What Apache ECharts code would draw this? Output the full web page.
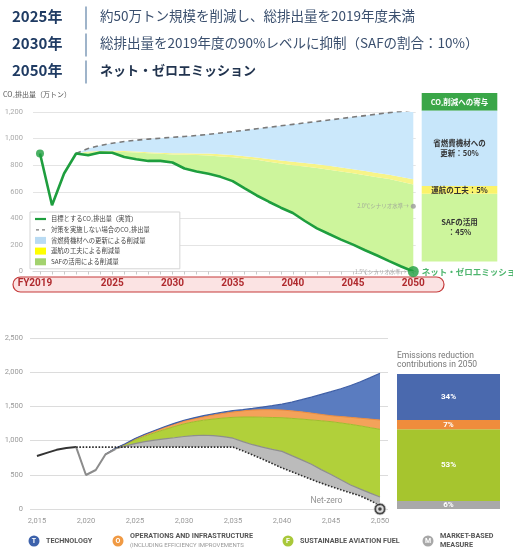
<!DOCTYPE html>
<html><head><meta charset="utf-8">
<script src="https://cdn.jsdelivr.net/npm/echarts@6/dist/echarts.min.js"></script>
<style>html,body{margin:0;padding:0;background:#fff}#c{width:513px;height:551px}</style>
</head><body><div id="c"></div>
<script>
// ---------- header ----------
const headerYears = ['2025年', '2030年', '2050年'];
const headerTexts = ['約50万トン規模を削減し、総排出量を2019年度未満',
  '総排出量を2019年度の90%レベルに抑制（SAFの割合：10%）',
  'ネット・ゼロエミッション'];

// ---------- top chart (Japan) ----------
const topYears = [2019,2020,2021,2022,2023,2024,2025,2026,2027,2028,2029,2030,2031,2032,2033,2034,2035,2036,2037,2038,2039,2040,2041,2042,2043,2044,2045,2046,2047,2048,2049,2050];
const topNet = [888,498,737,888,875,895,893,862,845,832,832,820,775,752,735,712,680,625,572,525,480,440,380,325,282,240,202,160,120,78,38,0];
const topAreaYears = [2022,2023,2024,2025,2026,2027,2028,2029,2030,2031,2032,2033,2034,2035,2036,2037,2038,2039,2040,2041,2042,2043,2044,2045,2046,2047,2048,2049,2050];
const topBau = [888,925,948,965,978,988,996,1003,1010,1016,1023,1032,1042,1052,1063,1074,1085,1096,1107,1118,1129,1140,1151,1162,1173,1184,1195,1205,1215];
const topOpsTop = [888,903,906,908,906,902,898,894,890,889,888,887,882,877,868,858,846,835,825,816,806,795,783,770,756,742,727,711,694];
const topSafTop = [888,895,900,902,900,895,890,885,880,878,876,872,866,859,850,840,826,812,800,790,778,765,752,740,725,710,695,675,655];
const topTickLabels = [2019,2025,2030,2035,2040,2045,2050];
const topPanelPct = [45, 5, 50];
const topPanelLabels = ['SAFの活用\n：45%', '運航の工夫：5%', '省燃費機材への\n更新：50%'];
const scenario20 = [2050, 490];
const scenario15 = [2050, 0];

// ---------- bottom chart (global) ----------
const botYears = [2015,2016,2017,2018,2019,2020,2021,2022,2023,2024,2025,2026,2027,2028,2029,2030,2031,2032,2033,2034,2035,2036,2037,2038,2039,2040,2041,2042,2043,2044,2045,2046,2047,2048,2049,2050];
const histYears = [2015,2016,2017,2018,2019];
const histValues = [775,820,865,893,905];
const recYears = [2019,2020,2021,2022,2023];
const recValues = [905,497,570,800,877];
const netYears = [2019,2020,2021,2022,2023,2024,2025,2026,2027,2028,2029,2030,2031,2032,2033,2034,2035,2036,2037,2038,2039,2040,2041,2042,2043,2044,2045,2046,2047,2048,2049,2050];
const netPath = [905,905,905,905,905,905,905,905,905,905,905,905,905,905,905,905,905,850,790,730,665,600,545,488,432,378,330,282,236,190,125,50];
const botAreaYears = [2022,2023,2024,2025,2026,2027,2028,2029,2030,2031,2032,2033,2034,2035,2036,2037,2038,2039,2040,2041,2042,2043,2044,2045,2046,2047,2048,2049,2050];
const botMbmTop = [800,880,920,955,985,1008,1025,1042,1060,1073,1078,1072,1058,1035,985,940,905,872,843,780,718,655,576,505,427,350,290,232,175];
const botSafTop = [800,885,945,1010,1065,1115,1160,1205,1245,1275,1298,1315,1330,1340,1345,1345,1342,1338,1335,1325,1315,1302,1290,1277,1258,1238,1215,1190,1165];
const botOpsTop = [800,887,950,1025,1085,1140,1192,1240,1285,1318,1348,1375,1398,1418,1435,1447,1452,1452,1447,1435,1420,1402,1383,1364,1352,1340,1327,1314,1301];
const botTechTop = [800,888,953,1030,1092,1148,1202,1252,1298,1333,1365,1393,1418,1440,1452,1470,1490,1510,1532,1562,1598,1635,1675,1715,1758,1805,1860,1920,1984];
const botTickLabels = [2015,2020,2025,2030,2035,2040,2045,2050];
const botPanelPct = [6, 53, 7, 34];
const netZeroPoint = [2050, 0];
const legendItems = [
  {letter: 'T', lines: ['TECHNOLOGY'], color: '#3d62ab'},
  {letter: 'O', lines: ['OPERATIONS AND INFRASTRUCTURE', '(INCLUDING EFFICIENCY IMPROVEMENTS'], color: '#f09a44'},
  {letter: 'F', lines: ['SUSTAINABLE AVIATION FUEL'], color: '#a9c83a'},
  {letter: 'M', lines: ['MARKET-BASED', 'MEASURE'], color: '#a8a8a8'}
];

// ---------- helpers ----------
const pair = (xs, ys) => xs.map((x, i) => [x, ys[i]]);
const onCats = (all, sub, vals) => all.map(y => { const k = sub.indexOf(y); return k < 0 ? null : vals[k]; });
const diff = (a, b) => a.map((v, i) => v - b[i]);
const fmt = v => v.toLocaleString('en-US');
const JP = 'Noto Sans CJK JP';
const RB = 'Roboto';

const S_NET = '目標とするCO₂排出量（実質）';
const S_BAU = '対策を実施しない場合のCO₂排出量';
const S_FLEET = '省燃費機材への更新による削減量';
const S_OPS = '運航の工夫による削減量';
const S_SAF = 'SAFの活用による削減量';

const topBase = topAreaYears.map(y => topNet[topYears.indexOf(y)]);
const botBase = botAreaYears.map(y => y < 2024 ? recValues[recYears.indexOf(y)] : netPath[netYears.indexOf(y)]);

const chart = echarts.init(document.getElementById('c'), null, {renderer: 'canvas'});

const titles = [];
const hdrCenters = [18, 45, 72];
headerYears.forEach((t, i) => {
  titles.push({text: t, left: 12, top: hdrCenters[i] - 9, padding: 0,
    textStyle: {fontFamily: JP, fontSize: 15, fontWeight: 'bold', color: '#1f3b63'}});
  titles.push({text: headerTexts[i], left: 100, top: hdrCenters[i] - 8.5, padding: 0,
    textStyle: {fontFamily: JP, fontSize: i === 2 ? 13 : 13.5, fontWeight: i === 2 ? 'bold' : 'normal', color: i === 2 ? '#22344f' : '#3a4f6e'}});
});
titles.push({text: 'CO₂排出量（万トン）', left: 3, top: 91, padding: 0,
  textStyle: {fontFamily: JP, fontSize: 7, fontWeight: 'normal', color: '#555'}});
titles.push({text: 'Emissions reduction\ncontributions in 2050', left: 397, top: 351, padding: 0,
  textStyle: {fontFamily: RB, fontSize: 8.5, fontWeight: 'normal', color: '#777', lineHeight: 9.5}});

const graphics = [];
hdrCenters.forEach(c => graphics.push({type: 'line', z: 1, shape: {x1: 86, y1: c - 11.5, x2: 86, y2: c + 11.5}, style: {stroke: '#7f9bb8', lineWidth: 1.5}}));
graphics.push({type: 'rect', z: -5, shape: {x: 13, y: 277, width: 431, height: 15, r: 7.5}, style: {fill: '#fbe3e3', stroke: '#c53a3a', lineWidth: 1.2}});
graphics.push({type: 'rect', z: 1, shape: {x: 421.7, y: 93, width: 75.6, height: 17.7}, style: {fill: '#3aa648'}});
graphics.push({type: 'text', z: 2, style: {text: 'CO₂削減への寄与', x: 459.5, y: 101.8, align: 'center', verticalAlign: 'middle', fill: '#fff', font: 'bold 7.5px "Noto Sans CJK JP"'}});
const legX = [34, 118, 288, 428];
legendItems.forEach((it, i) => {
  const cx = legX[i], cy = 541;
  graphics.push({type: 'circle', shape: {cx: cx, cy: cy, r: 5.5}, style: {fill: it.color}});
  graphics.push({type: 'text', style: {text: it.letter, x: cx, y: cy + 0.5, align: 'center', verticalAlign: 'middle', fill: '#fff', font: 'bold 7px Roboto'}});
  if (it.lines.length === 1) {
    graphics.push({type: 'text', style: {text: it.lines[0], x: cx + 12, y: cy, verticalAlign: 'middle', fill: '#555', font: 'bold 7.2px Roboto'}});
  } else {
    graphics.push({type: 'text', style: {text: it.lines[0], x: cx + 12, y: cy - 4.5, verticalAlign: 'middle', fill: '#555', font: 'bold 7.2px Roboto'}});
    graphics.push({type: 'text', style: {text: it.lines[1], x: cx + 12, y: cy + 4.5, verticalAlign: 'middle', fill: i === 1 ? '#999' : '#555', font: (i === 1 ? '' : 'bold ') + (i === 1 ? '6px' : '7.2px') + ' Roboto'}});
  }
});

const areaLine = {width: 0, opacity: 0};
const TA = {xAxisIndex: 4, yAxisIndex: 4, stack: 'top', symbol: 'none', connectNulls: false, z: 1};
const BA = {xAxisIndex: 5, yAxisIndex: 5, stack: 'bot', symbol: 'none', connectNulls: false, z: 1};
const tcat = (vals) => onCats(topYears, topAreaYears, vals);
const bcat = (vals) => onCats(botYears, botAreaYears, vals);

const series = [
  Object.assign({type: 'line', name: 'topbase', data: tcat(topBase), lineStyle: areaLine, silent: true}, TA),
  Object.assign({type: 'line', name: S_SAF, data: tcat(diff(topSafTop, topBase)), lineStyle: areaLine, itemStyle: {color: '#a3d26e'}, areaStyle: {color: '#cdf59c', opacity: 1}}, TA),
  Object.assign({type: 'line', name: S_OPS, data: tcat(diff(topOpsTop, topSafTop)), lineStyle: areaLine, itemStyle: {color: '#ffff00'}, areaStyle: {color: '#f7f488', opacity: 1}}, TA),
  Object.assign({type: 'line', name: S_FLEET, data: tcat(diff(topBau, topOpsTop)), lineStyle: areaLine, itemStyle: {color: '#b9dbf3'}, areaStyle: {color: '#cbe8fb', opacity: 1}}, TA),
  {type: 'line', xAxisIndex: 0, yAxisIndex: 0, name: S_BAU, data: pair(topAreaYears, topBau), symbol: 'none', color: '#7a7a7a', itemStyle: {color: '#7a7a7a'}, lineStyle: {color: '#7a7a7a', width: 1.6, type: [5, 4]}, z: 3},
  {type: 'line', xAxisIndex: 0, yAxisIndex: 0, name: S_NET, data: pair(topYears, topNet), symbol: 'none', color: '#1e9e3e', itemStyle: {color: '#1e9e3e'}, lineStyle: {color: '#1e9e3e', width: 2.6}, z: 4},
  {type: 'scatter', xAxisIndex: 0, yAxisIndex: 0, name: 'netdots', clip: false, z: 5,
    data: [
      {value: [topYears[0], topNet[0]], symbolSize: 8},
      {value: [topYears[topYears.length - 1], topNet[topNet.length - 1]], symbolSize: 11,
        label: {show: true, position: 'right', distance: 3, formatter: headerTexts[2], color: '#22a24a', fontFamily: JP, fontWeight: 'bold', fontSize: 8.5}}
    ], itemStyle: {color: '#1e9e3e'}},
  {type: 'scatter', xAxisIndex: 0, yAxisIndex: 0, name: 'scen', clip: false, z: 5,
    data: [
      {value: scenario20, symbolSize: 5, itemStyle: {color: '#9a9a9a'},
        label: {show: true, position: 'left', distance: 2, formatter: '2.0℃シナリオ水準→', color: '#999', fontFamily: JP, fontSize: 5.5}},
      {value: scenario15, symbolSize: 0, itemStyle: {color: 'transparent'},
        label: {show: true, position: 'left', distance: 7, formatter: '1.5℃シナリオ水準→', color: '#999', fontFamily: JP, fontSize: 5.5}}
    ]},
  ...['#cdf59c', '#fbf36a', '#c7e6fa'].map((col, i) => ({
    type: 'bar', xAxisIndex: 1, yAxisIndex: 1, stack: 'tp', name: 'tp' + i, barWidth: '100%',
    data: [topPanelPct[i]], itemStyle: {color: col},
    label: {show: true, position: 'inside', formatter: topPanelLabels[i], color: '#333', fontFamily: JP, fontWeight: 'bold', fontSize: 7.5, lineHeight: 10}
  })),
  Object.assign({type: 'line', name: 'botbase', data: bcat(botBase), lineStyle: areaLine, silent: true}, BA),
  Object.assign({type: 'line', name: 'MBM', data: bcat(diff(botMbmTop, botBase)), lineStyle: {color: '#8e8e8e', width: 1.2}, areaStyle: {color: '#bbbbbb', opacity: 1}}, BA),
  Object.assign({type: 'line', name: 'SAF', data: bcat(diff(botSafTop, botMbmTop)), lineStyle: {color: '#9fbd2c', width: 1}, areaStyle: {color: '#b1d03a', opacity: 1}}, BA),
  Object.assign({type: 'line', name: 'OPS', data: bcat(diff(botOpsTop, botSafTop)), lineStyle: {color: '#ee8b3a', width: 1}, areaStyle: {color: '#f4a25a', opacity: 1}}, BA),
  Object.assign({type: 'line', name: 'TECH', data: bcat(diff(botTechTop, botOpsTop)), lineStyle: {color: '#3f5fa6', width: 1.2}, areaStyle: {color: '#5a7cc0', opacity: 1}}, BA),
  {type: 'line', xAxisIndex: 2, yAxisIndex: 2, name: 'hist', data: pair(histYears, histValues), symbol: 'none', lineStyle: {color: '#333', width: 2}, z: 3},
  {type: 'line', xAxisIndex: 2, yAxisIndex: 2, name: 'rec', data: pair(recYears, recValues), symbol: 'none', lineStyle: {color: '#8c8c8c', width: 2}, z: 3},
  {type: 'line', xAxisIndex: 2, yAxisIndex: 2, name: 'net', data: pair(netYears, netPath), symbol: 'none', lineStyle: {color: '#2b2b2b', width: 1.6, type: 'dotted'}, z: 3},
  {type: 'scatter', xAxisIndex: 2, yAxisIndex: 2, name: 'nz', clip: false, z: 6,
    data: [
      {value: netZeroPoint, symbolSize: 12, itemStyle: {color: '#1c1c1c', borderColor: '#ddd', borderWidth: 1},
        label: {show: true, position: 'left', offset: [-26, -8], formatter: 'Net-zero', color: '#777', fontFamily: RB, fontSize: 8.5}},
      {value: netZeroPoint, symbolSize: 7.5, itemStyle: {color: '#fff'}},
      {value: netZeroPoint, symbolSize: 3.5, itemStyle: {color: '#1c1c1c'}}
    ]},
  ...['#a9a9a9', '#a6c52e', '#ef8c3c', '#4a69ae'].map((col, i) => ({
    type: 'bar', xAxisIndex: 3, yAxisIndex: 3, stack: 'bp', name: 'bp' + i, barWidth: '100%',
    data: [botPanelPct[i]], itemStyle: {color: col},
    label: {show: true, position: 'inside', formatter: botPanelPct[i] + '%', color: '#fff', fontFamily: RB, fontWeight: 'bold', fontSize: 8}
  }))
];

const option = {
  animation: false,
  backgroundColor: '#fff',
  title: titles,
  graphic: graphics,
  legend: {
    data: [
      {name: S_NET, icon: 'path://M0,0 M11,7 M0,2.4 L11,2.4 L11,4.6 L0,4.6 Z'},
      {name: S_BAU, icon: 'path://M0,0 M11,7 M1,3 L4,3 L4,4.2 L1,4.2 Z M7,3 L10,3 L10,4.2 L7,4.2 Z'},
      {name: S_FLEET, icon: 'rect'}, {name: S_OPS, icon: 'rect'}, {name: S_SAF, icon: 'rect'}
    ],
    orient: 'vertical', left: 30, top: 212, itemWidth: 11, itemHeight: 7, itemGap: 2.7,
    padding: [3, 30, 3, 5], backgroundColor: '#fff', borderColor: '#d5d5d5', borderWidth: 1,
    textStyle: {fontFamily: JP, fontSize: 6.3, color: '#444', lineHeight: 8}, selectedMode: false
  },
  grid: [
    {left: 33, right: 97.3, top: 112, bottom: 279.5},
    {left: 421.7, right: 15.7, top: 110.7, bottom: 289.5},
    {left: 30, right: 125, top: 338, bottom: 42},
    {left: 397, right: 13, top: 374, bottom: 42},
    {left: 40, right: 99.7, top: 112, bottom: 279.5},
    {left: 37, right: 133, top: 338, bottom: 42}
  ],
  xAxis: [
    {type: 'value', gridIndex: 0, min: 2018.42, max: 2050.2, z: 5,
      splitLine: {show: false},
      axisLine: {show: true, lineStyle: {color: '#d8d8d8'}},
      axisTick: {show: true, customValues: topYears, length: 3, lineStyle: {color: '#c9c9c9'}},
      axisLabel: {customValues: topTickLabels, margin: 7,
        formatter: v => v === 2019 ? '{fy|FY2019}' : '{n|' + v + '}',
        rich: {fy: {fontFamily: RB, fontSize: 10, fontWeight: 'bold', color: '#b02a2e', padding: [0, 10, 0, 0]},
               n: {fontFamily: RB, fontSize: 10, fontWeight: 'bold', color: '#b02a2e'}}}},
    {type: 'category', gridIndex: 1, data: ['2050'], show: false},
    {type: 'value', gridIndex: 2, min: 2014.29, max: 2050.82,
      splitLine: {show: false}, axisLine: {show: false}, axisTick: {show: false},
      axisLabel: {customValues: botTickLabels, margin: 8, color: '#999', fontFamily: RB, fontSize: 7.5}},
    {type: 'category', gridIndex: 3, data: ['2050'], show: false},
    {type: 'category', gridIndex: 4, data: topYears, boundaryGap: false, show: false},
    {type: 'category', gridIndex: 5, data: botYears, boundaryGap: false, show: false}
  ],
  yAxis: [
    {type: 'value', gridIndex: 0, min: 0, max: 1200, interval: 200,
      axisLine: {show: false}, axisTick: {show: false},
      splitLine: {lineStyle: {color: '#e4e4e4'}},
      axisLabel: {formatter: fmt, margin: 10, color: '#aaa', fontFamily: RB, fontSize: 7.5}},
    {type: 'value', gridIndex: 1, min: 0, max: 100, show: false},
    {type: 'value', gridIndex: 2, min: 0, max: 2500, interval: 500,
      axisLine: {show: false}, axisTick: {show: false},
      splitLine: {lineStyle: {color: '#dcdcdc'}},
      axisLabel: {formatter: fmt, margin: 7, color: '#999', fontFamily: RB, fontSize: 7.5}},
    {type: 'value', gridIndex: 3, min: 0, max: 100, show: false},
    {type: 'value', gridIndex: 4, min: 0, max: 1200, show: false},
    {type: 'value', gridIndex: 5, min: 0, max: 2500, show: false}
  ],
  series: series
};
chart.setOption(option);
</script>
</body></html>
